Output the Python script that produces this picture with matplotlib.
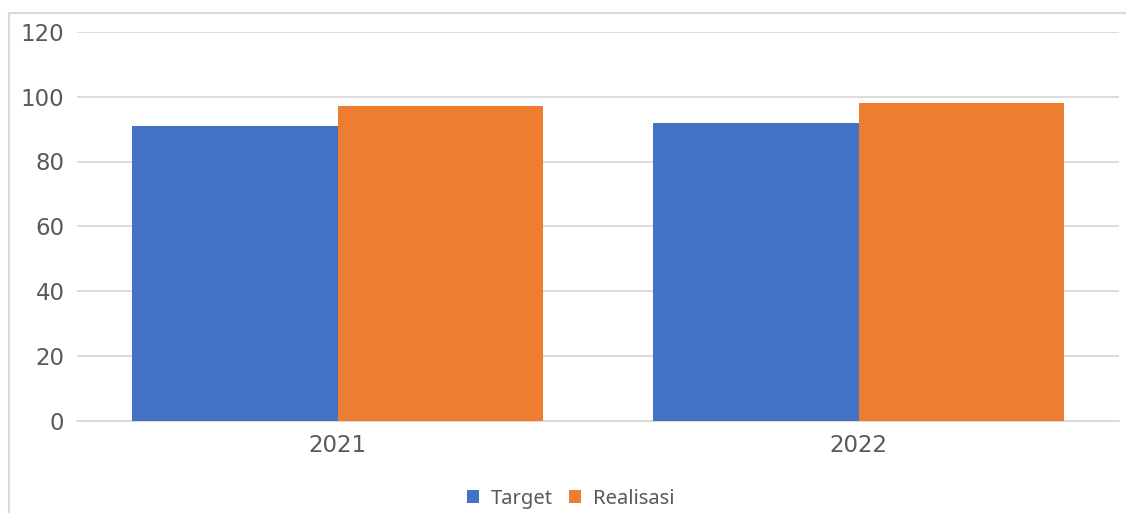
import matplotlib.pyplot as plt
import matplotlib.patches as mpatches
import numpy as np

# data
years = ["2021", "2022"]
target = [91, 92]
realisasi = [97, 98]
yticks = [0, 20, 40, 60, 80, 100, 120]

plt.rcParams['font.family'] = ['DejaVu Sans']

fig = plt.figure(figsize=(11.26, 5.13), dpi=100)
ax = fig.add_axes([77 / 1126, 1 - 420.5 / 513, (1119 - 77) / 1126, (420.5 - 32) / 513])

x = np.arange(len(years))
w = 0.395
ax.bar(x - w / 2, target, width=w, color="#4472c4", label="Target", zorder=3)
ax.bar(x + w / 2, realisasi, width=w, color="#ed7d31", label="Realisasi", zorder=3)

ax.set_xlim(-0.5, len(years) - 0.5)
ax.set_ylim(0, 120)
ax.set_yticks(yticks)
ax.set_xticks(x)
ax.set_xticklabels(years)
ax.grid(axis="y", color="#d9d9d9", linewidth=1.3, zorder=0)
for s in ["top", "right", "left"]:
    ax.spines[s].set_visible(False)
ax.spines["bottom"].set_color("#d9d9d9")
ax.spines["bottom"].set_linewidth(1.3)
ax.tick_params(axis="both", length=0, labelsize=16.5, colors="#595959")
ax.tick_params(axis="y", pad=9)
ax.tick_params(axis="x", pad=10)

leg = ax.legend(loc="center", bbox_to_anchor=(0.507, 0.028), bbox_transform=fig.transFigure,
                ncol=2, frameon=False, prop={"family": "Noto Sans", "size": 14.5},
                handlelength=0.6, handleheight=0.6, handletextpad=0.6, columnspacing=0.8)
for t in leg.get_texts():
    t.set_color("#595959")

# outer chart frame (cropped at right and bottom)
fig.patches.append(mpatches.Rectangle((9 / 1126, -0.1), 1.2, 1 - 13 / 513 + 0.1,
                                      transform=fig.transFigure, fill=False,
                                      edgecolor="#d9d9d9", linewidth=1.5))

fig.savefig("out.png", dpi=100)
